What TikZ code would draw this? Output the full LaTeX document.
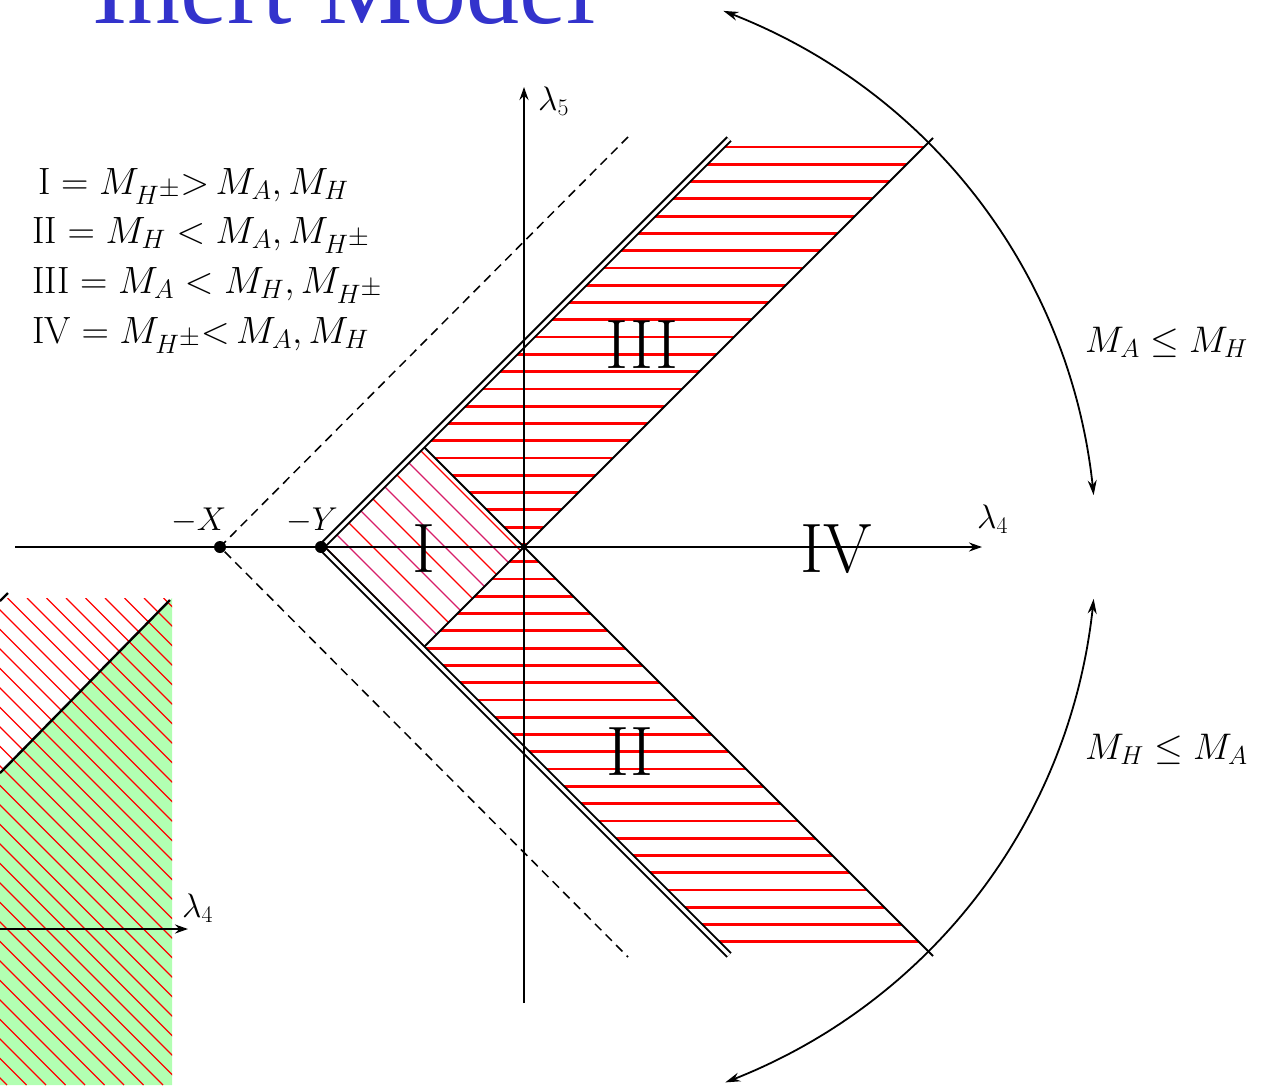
\RequirePackage{fix-cm}
\documentclass[tikz,border=0pt]{standalone}
\usepackage{fontspec}
\newfontfamily\titlefont{Liberation Serif}
\usetikzlibrary{arrows.meta}
\definecolor{titleblue}{RGB}{51,51,204}
\definecolor{insetgreen}{RGB}{178,255,178}
\definecolor{hatchpink}{RGB}{215,30,105}
\tikzset{
  axisline/.style={line width=2.6pt,-{Stealth[length=13pt,width=9pt]}},
  edgeline/.style={line width=1.8pt},
  dblline/.style={double=white,double distance=3.2pt,line width=2.1pt},
  hatchH/.style={red,line width=2.8pt},
  hatchD/.style={line width=1.4pt},
  arcline/.style={line width=1.8pt,{Stealth[length=15pt,width=9pt]}-{Stealth[length=15pt,width=9pt]}},
  dashline/.style={line width=1.5pt,dash pattern=on 9pt off 6pt},
  lbl/.style={inner sep=0pt,anchor=base west},
  numeral/.style={inner sep=0pt,anchor=base,font=\fontsize{70}{80}\selectfont},
  legendfont/.style={lbl,font=\fontsize{38}{45}\selectfont},
  sidefont/.style={lbl,font=\fontsize{37}{44}\selectfont},
  lamfont/.style={lbl,font=\fontsize{34}{40}\selectfont},
}
\begin{document}
\begin{tikzpicture}[x=1pt,y=-1pt]
\useasboundingbox (0,0) rectangle (1269,1085);
\clip (0,0) rectangle (1269,1085);
% key points
\coordinate (O) at (524,547);
\coordinate (mY) at (321,547);
\coordinate (mX) at (220,547);
\coordinate (Tc) at (422.5,445.5);
\coordinate (Bc) at (422.5,648.5);
\coordinate (DT) at (729,139);
\coordinate (DB) at (729,955);
\coordinate (IT) at (933,138);
\coordinate (IB) at (933,956);
\coordinate (XT) at (628,137);
\coordinate (XB) at (628,957);
\coordinate (A4s) at (15,547);
\coordinate (A4e) at (982,547);
\coordinate (A5s) at (524,1003);
\coordinate (A5e) at (524,87);

% title
\node[anchor=base west,inner sep=0pt,text=titleblue,font=\titlefont\fontsize{106}{120}\selectfont] (title) at (92,23) {Inert Model};

% inset (bottom left)
\fill[insetgreen] (0,773) -- (172,598) -- (172,1085) -- (0,1085) -- cycle;
\begin{scope}
  \clip (0,598) rectangle (172,1085);
  \foreach \k in {-27,...,8}
    \draw[red,line width=1.3pt] ({27+19.5*\k},598) -- ({27+19.5*\k+487},1085);
\end{scope}
\coordinate (G1) at (0,773);
\coordinate (G2) at (170,600);
\draw[line width=2.4pt] (G1) -- (G2);
\coordinate (G3) at (0,601);
\coordinate (G4) at (8,593);
\draw[line width=2.4pt] (G3) -- (G4);
\coordinate (B4s) at (0,929);
\coordinate (B4e) at (188,929);
\draw[axisline] (B4s) -- (B4e);
\node[lamfont] (lam4b) at (182,917) {$\lambda_4$};

% band III hatch
\begin{scope}
  \clip (Tc) -- (DT) -- (IT) -- (O) -- cycle;
  \foreach \k in {0,...,46}
    \draw[hatchH] (300,{147+17.28*\k}) -- (1000,{147+17.28*\k});
\end{scope}
% band II hatch
\begin{scope}
  \clip (Bc) -- (DB) -- (IB) -- (O) -- cycle;
  \foreach \k in {0,...,46}
    \draw[hatchH] (300,{147+17.28*\k}) -- (1000,{147+17.28*\k});
\end{scope}
% region I hatch
\begin{scope}
  \clip (mY) -- (Tc) -- (O) -- (Bc) -- cycle;
  \foreach \c/\col in {-222/red,-198/hatchpink,-174/red,-150/hatchpink,-126/red,-102/hatchpink,-78/red,-54/hatchpink,-30/red}
    \draw[hatchD,\col] (300,{300-\c}) -- (560,{560-\c});
\end{scope}

% dashed lines
\draw[dashline] (XT) -- (mX) -- (XB);
% band edges
\draw[edgeline] (Tc) -- (O) -- (IB);
\draw[edgeline] (Bc) -- (O) -- (IT);
\draw[dblline] (DT) -- (mY) -- (DB);

% axes
\draw[axisline] (A4s) -- (A4e);
\draw[axisline] (A5s) -- (A5e);
\fill (mX) circle[radius=6];
\fill (mY) circle[radius=6];
\fill (O) circle[radius=3];

% arcs
\draw[arcline] plot[domain=5.2:69.6,samples=80] ({524+572*cos(\x)},{547-572*sin(\x)});
\draw[arcline] plot[domain=-69.4:-5.2,samples=80] ({524+572*cos(\x)},{547-572*sin(\x)});

% labels
\node[lamfont] (lam5) at (538,110) {$\lambda_5$};
\node[lamfont] (lam4) at (977,528) {$\lambda_4$};
\node[lbl,font=\fontsize{33}{39}\selectfont] (labX) at (171,530) {$-X$};
\node[lbl,font=\fontsize{33}{39}\selectfont] (labY) at (286,530) {$-Y$};
\node[numeral] (rI) at (424,572) {I};
\node[numeral] (rIII) at (642,368) {III};
\node[numeral] (rII) at (630,775) {II};
\node[numeral] (rIV) at (836,572) {IV};
\node[sidefont] (sideA) at (1085,352) {$M_A \leq M_H$};
\node[sidefont] (sideB) at (1085,759) {$M_H \leq M_A$};

% legend
\node[legendfont] (leg1) at (38,194) {$\mathrm{I} = M_{H^{\scriptstyle\pm}}{>}\, M_A, M_H$};
\node[legendfont] (leg2) at (32,243) {$\mathrm{II} = M_H < M_A, M_{H^{\scriptstyle\pm}}$};
\node[legendfont] (leg3) at (32,293) {$\mathrm{III} = M_A < M_H, M_{H^{\scriptstyle\pm}}$};
\node[legendfont] (leg4) at (32,343) {$\mathrm{IV} = M_{H^{\scriptstyle\pm}}{<}\, M_A, M_H$};
\end{tikzpicture}
\end{document}
